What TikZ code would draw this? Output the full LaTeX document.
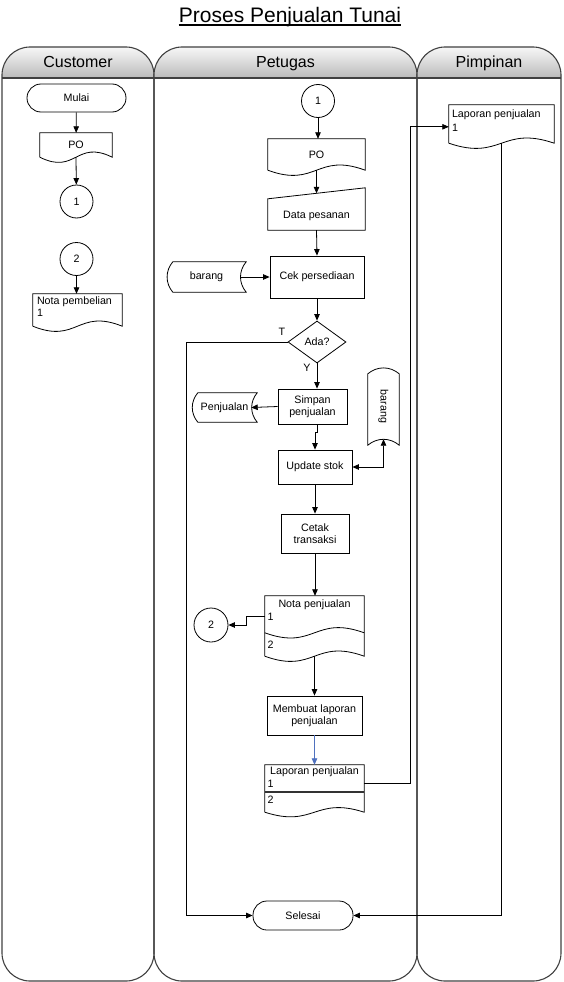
\documentclass[tikz,border=0pt]{standalone}
\usepackage{fontspec}
\setmainfont{Liberation Sans}
\usetikzlibrary{arrows.meta,shapes.geometric,calc}
\definecolor{arrowblue}{RGB}{79,113,190}
\newcommand\docshape[2]{\draw[shp] (#1.south west) -- (#1.north west) -- (#1.north east) -- (#1.south east) .. controls ($(#1.south)+(0,-#2)$) and ($(#1.south)+(0,#2)$) .. (#1.south west);}
\newcommand\wavepath[3]{\draw[shp] (#1) .. controls ($(#1)!0.5!(#2)+(0,#3)$) and ($(#1)!0.5!(#2)+(0,-#3)$) .. (#2);}
\newcommand\storedh[1]{\draw[shp] ($(#1.north west)+(6,0)$) -- (#1.north east) to[bend right=40] (#1.south east) -- ($(#1.south west)+(6,0)$) to[bend left=40] ($(#1.north west)+(6,0)$) -- cycle;}
\newcommand\swimlane[3]{%
  \begin{scope}
    \clip[rounded corners=28pt] (#1,47) rectangle (#2,981);
    \shade[top color=black!3, bottom color=black!27] (#1,47) rectangle (#2,78);
  \end{scope}
  \draw[lanestyle, rounded corners=28pt] (#1,47) rectangle (#2,981);
  \draw[lanestyle] (#1,78) -- (#2,78);
  \node[headfont, anchor=base] (#3) at ({(#1+#2)/2},67) {#3};}
\begin{document}
\begin{tikzpicture}[x=1pt,y=-1pt,
  every node/.style={font=\fontsize{10.7}{12.5}\selectfont, inner sep=0pt},
  shp/.style={draw=black, line width=0.8pt},
  proc/.style={shp, rectangle, align=center},
  term/.style={shp, rectangle, rounded corners=14pt},
  cir/.style={shp, circle, minimum size=33pt},
  ghost/.style={rectangle, align=center},
  lanestyle/.style={draw=black!75, line width=1.1pt},
  headfont/.style={font=\fontsize{16}{19}\selectfont},
  >={Triangle[length=6.5pt,width=5.5pt]},
  arr/.style={line width=0.8pt, ->},
  darr/.style={line width=0.8pt, <->},
]
\useasboundingbox (0,0) rectangle (563,982);

% title
\node[font=\fontsize{21}{25}\selectfont, anchor=base] (title) at (290,22.5) {Proses Penjualan Tunai};
\draw[line width=1.1pt] ($(title.base west)+(0,2.5)$) -- ($(title.base east)+(0,2.5)$);

% lanes
\swimlane{2}{154}{Customer}
\swimlane{154}{417}{Petugas}
\swimlane{417}{561}{Pimpinan}

% Customer
\node[term, minimum width=99pt, minimum height=28pt] (mulai) at (76.5,98) {Mulai};
\node[ghost, minimum width=72pt, minimum height=24pt] (po1) at (76,145) {PO};
\docshape{po1}{18}
\node[cir] (c1a) at (76.5,201.5) {1};
\node[cir] (c2a) at (76.5,259) {2};
\node[ghost, minimum width=89pt, minimum height=32pt] (npb) at (77.5,310) {};
\docshape{npb}{18}
\node[anchor=north west, align=left] (npbt) at ($(npb.north west)+(4,2.5)$) {Nota pembelian\\1};

% Petugas
\node[cir] (c1b) at (318,101) {1};
\node[ghost, minimum width=97pt, minimum height=31pt] (po2) at (316.5,154.5) {PO};
\docshape{po2}{18}
\node[ghost, minimum width=97pt, minimum height=42pt] (dp) at (316.5,209) {};
\draw[shp] ($(dp.north west)+(0,11)$) -- (dp.north east) -- (dp.south east) -- (dp.south west) -- cycle;
\node (dpt) at (316.5,216) {Data pesanan};
\node[proc, minimum width=94pt, minimum height=42pt] (cek) at (317,277) {Cek persediaan};
\node[ghost, minimum width=79pt, minimum height=30pt] (brg1) at (206.5,277) {barang};
\storedh{brg1}
\node[shp, diamond, minimum width=58pt, minimum height=42pt] (ada) at (317,342) {Ada?};
\node (tl) at (282,332) {T};
\node (yl) at (307,368) {Y};
\node[proc, minimum width=69pt, minimum height=35pt] (simpan) at (312.5,406.5) {Simpan\\penjualan};
\node[ghost, minimum width=65pt, minimum height=29pt] (pen) at (224.5,407.5) {Penjualan};
\storedh{pen}
\node[ghost, minimum width=31pt, minimum height=77pt] (brg2) at (383.5,406.5) {};
\draw[shp] ($(brg2.north west)+(0,6)$) to[bend left=40] ($(brg2.north east)+(0,6)$) -- (brg2.south east) to[bend right=40] (brg2.south west) -- cycle;
\node[rotate=-90] (brg2t) at (brg2.center) {barang};
\node[proc, minimum width=74pt, minimum height=34pt] (update) at (315,467) {Update stok};
\node[proc, minimum width=68pt, minimum height=39pt] (cetak) at (315,533.5) {Cetak\\transaksi};
\node[ghost, minimum width=99pt, minimum height=60pt] (nota) at (314.5,626) {};
\docshape{nota}{18}
\coordinate (nw1) at ($(nota.north west)+(0,37)$);
\coordinate (ne1) at ($(nota.north east)+(0,37)$);
\wavepath{nw1}{ne1}{18}
\node (notat) at (314.5,605) {Nota penjualan};
\node[anchor=west] (nota1) at (267.5,617) {1};
\node[anchor=west] (nota2) at (267.5,645) {2};
\node[cir, minimum size=34pt] (c2b) at (211,625) {2};
\node[proc, minimum width=95pt, minimum height=39pt] (membuat) at (314.5,715.5) {Membuat laporan\\penjualan};
\node[ghost, minimum width=99pt, minimum height=47pt] (lap) at (314.5,788.5) {};
\docshape{lap}{16}
\draw[line width=1.5pt, black!80] ($(lap.north west)+(0,27)$) -- ($(lap.north east)+(0,27)$);
\node (lapt) at (314.5,772) {Laporan penjualan};
\node[anchor=west] (lap1) at (267.5,784) {1};
\node[anchor=west] (lap2) at (267.5,800) {2};
\node[term, minimum width=100pt, minimum height=29pt] (selesai) at (303,915.5) {Selesai};

% Pimpinan
\node[ghost, minimum width=105pt, minimum height=38pt] (lpp) at (501.5,124) {};
\docshape{lpp}{18}
\node[anchor=north west, align=left, font=\fontsize{10.7}{13.5}\selectfont] (lppt) at ($(lpp.north west)+(3,5)$) {Laporan penjualan\\1};

% connectors
\draw[arr] (mulai) -- (po1);
\draw[arr] (po1.south) -- (c1a);
\draw[arr] (c2a.south) -- (c2a.south |- npb.north);
\draw[arr] (c1b) -- (c1b |- po2.north);
\draw[arr] (po2.south) -- ($(dp.north)+(0,5.5)$);
\draw[arr] (dp.south) -- (cek.north);
\draw[arr] ($(brg1.east)+(-6,0)$) -- (cek.west);
\draw[arr] (cek) -- (ada);
\coordinate (tc) at (186,342);
\draw[arr] (ada.west) -- (tc) |- (selesai.west);
\draw[arr] (ada.south) -- (ada.south |- simpan.north);
\draw[arr] (simpan.west) -- ($(pen.east)+(-6,0)$);
\draw[arr] (simpan.south -| ada.south) -- ++(0,8) -| (update.north);
\draw[darr] (update.east) -| ($(brg2.south)+(0,-6)$);
\draw[arr] (update) -- (cetak);
\draw[arr] (cetak.south) -- (cetak.south |- nota.north);
\draw[arr] ($(nota.north west)+(0,21)$) -- ++(-18,0) |- (c2b.east);
\draw[arr] (nota.south) -- (membuat.north);
\draw[arr, draw=arrowblue] (membuat) -- (lap);
\draw[arr] ($(lap.north east)+(0,19)$) -- ++(46,0) |- ($(lpp.north west)+(0,22)$);
\draw[arr] (lpp.south) |- (selesai.east);
\end{tikzpicture}
\end{document}
